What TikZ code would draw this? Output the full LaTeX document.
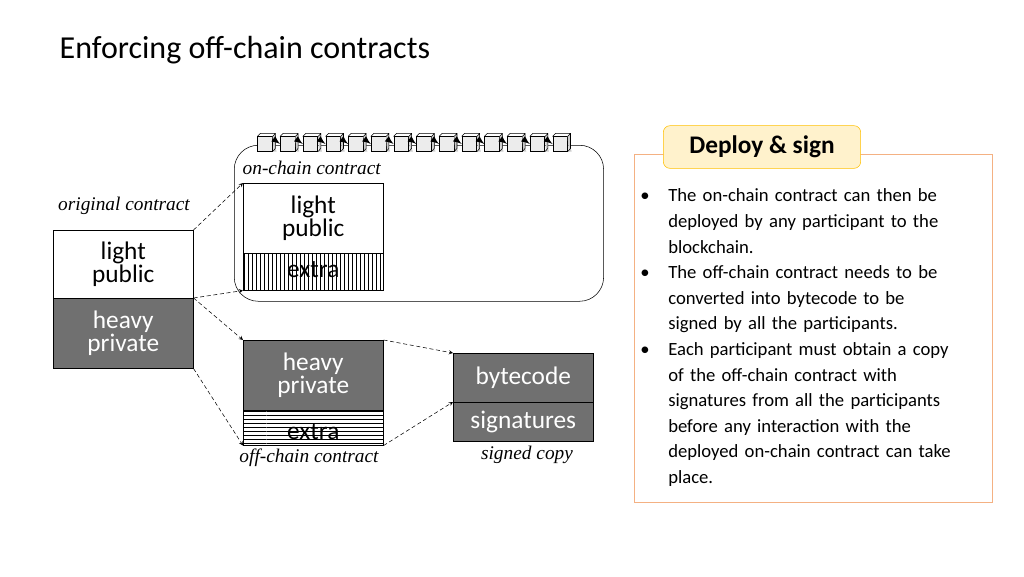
\documentclass[tikz,border=0pt]{standalone}
\usepackage{fontspec}
\usepackage{enumitem}
\setmainfont{Carlito}
\newfontfamily\serifit{Liberation Serif}
\usetikzlibrary{patterns}
\definecolor{darkpart}{HTML}{707070}
\definecolor{panelline}{HTML}{F4B183}
\definecolor{headfill}{HTML}{FFF2CC}
\definecolor{headline}{HTML}{FFC000}
\begin{document}
\begin{tikzpicture}[x=0.75pt,y=-0.75pt,
    part/.style={draw, anchor=north west, minimum width=105pt, inner sep=0pt, align=center, font=\fontsize{19}{17.5}\selectfont},
    light/.style={part, fill=white},
    heavy/.style={part, fill=darkpart, text=white},
    caption/.style={font=\serifit\itshape\fontsize{14.5}{14.5}\selectfont},
    link/.style={->, densely dashed, >=stealth, thin},
    cube/.style={draw, fill=gray!15, minimum size=11pt, inner sep=0pt}
]
\useasboundingbox (0,0) rectangle (1024,576);
\node[anchor=west, font=\fontsize{24}{24}\selectfont] (title) at (55,50) {Enforcing off-chain contracts};

% original contract
\node[caption] (origlbl) at (124,206) {original contract};
\node[light, minimum height=51pt] (orig-light) at (53,230) {light\\public};
\node[heavy, minimum height=52.5pt] (orig-heavy) at (53,298) {heavy\\private};

% on-chain contract
\node[draw, rounded corners=18pt, anchor=north west, minimum width=277pt, minimum height=117pt] (chainbox) at (234,145) {};
\node[caption, anchor=west] (onlbl) at (238,168) {on-chain contract};
\node[light, minimum height=52.5pt] (on-light) at (243,183) {light\\public};
\node[part, minimum height=27.75pt, pattern=vertical lines] (on-extra) at (243,253) {};
\node (on-extra-txt) at ([yshift=2]on-extra.center) [font=\fontsize{19}{17}\selectfont] {extra};

% blockchain
\foreach \i in {0,...,13}{
  \node[cube] (blk\i) at (265+22.7*\i,144) {};
  \fill[gray!40] (blk\i.north east) -- ++(3,-3) -- ++(0,15) -- ([xshift=3]blk\i.south east) -- ++(-3,0) -- cycle;
  \draw (blk\i.north west) -- ++(3,-3) -- ++(15,0) -- ++(0,15) -- (blk\i.south east) (blk\i.north east) -- ++(3,-3);
}
\foreach \i [count=\j from 1] in {0,...,12}
  \draw[->, >=latex, line width=1.2pt] ([xshift=3,yshift=2]blk\i.east) -- (blk\j.west);

% off-chain contract
\node[heavy, minimum height=52.5pt] (off-heavy) at (243,340) {heavy\\private};
\node[part, minimum height=26.25pt, pattern=horizontal lines] (off-extra) at (243,410) {};
\node (off-extra-txt) at ([yshift=-3]off-extra.center) [font=\fontsize{19}{17}\selectfont] {extra};
\node[caption] (offlbl) at (309,458) {off-chain contract};

% signed copy
\node[heavy, minimum height=36.75pt] (bytecode) at (453,353) {bytecode};
\node[heavy, minimum height=29.25pt] (sigs) at (453,402) {signatures};
\node[caption] (signlbl) at (527,455) {signed copy};

% links
\draw[link] (orig-light.north east) -- (on-light.north west);
\draw[link] (orig-heavy.north east) -- (on-extra.south west);
\draw[link] (orig-heavy.north east) -- (off-heavy.north west);
\draw[link] (orig-heavy.south east) -- (off-extra.south west);
\draw[link] (off-heavy.north east) -- (bytecode.north west);
\draw[link] (off-extra.south east) -- (sigs.north west);

% deploy & sign panel
\node[draw=panelline, anchor=north west, minimum width=268.5pt, minimum height=261pt] (panel) at (634,154) {};
\node[draw=headline, fill=headfill, rounded corners=5pt, minimum width=148pt, minimum height=32pt, font=\bfseries\fontsize{19}{19}\selectfont] (head) at (762,147) {Deploy \& sign};
\node[anchor=north west, text width=238pt, inner sep=0pt, font=\fontsize{14}{19.2}\selectfont] (bullets) at (640,176) {%
  \begin{itemize}[leftmargin=21pt, labelsep=14pt, topsep=0pt, itemsep=0pt, parsep=0pt]
  \item The on-chain contract can then be deployed by any participant to the blockchain.
  \item The off-chain contract needs to be converted into bytecode to be signed by all the participants.
  \item Each participant must obtain a copy of the off-chain contract with signatures from all the participants before any interaction with the deployed on-chain contract can take place.
  \end{itemize}};
\end{tikzpicture}
\end{document}
